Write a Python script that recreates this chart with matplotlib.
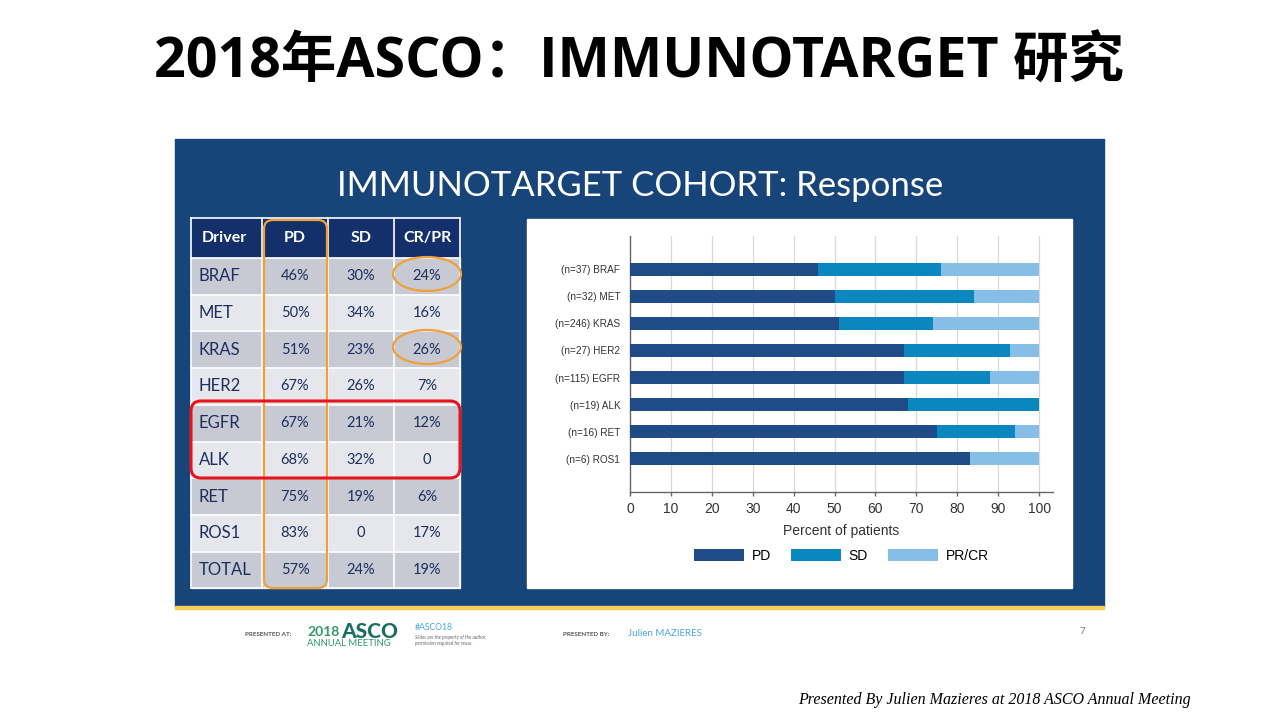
import matplotlib
matplotlib.use("Agg")
import matplotlib.pyplot as plt
from matplotlib.patches import Rectangle, FancyBboxPatch, Ellipse

# ---------------------------------------------------------------
# data
drivers = ["BRAF", "MET", "KRAS", "HER2", "EGFR", "ALK", "RET", "ROS1"]
n_patients = [37, 32, 246, 27, 115, 19, 16, 6]
pd_pct = [46, 50, 51, 67, 67, 68, 75, 83]
sd_pct = [30, 34, 23, 26, 21, 32, 19, 0]
crpr_pct = [24, 16, 26, 7, 12, 0, 6, 17]
total_row = ["TOTAL", 57, 24, 19]

table_header = ["Driver", "PD", "SD", "CR/PR"]
x_ticks = [0, 10, 20, 30, 40, 50, 60, 70, 80, 90, 100]
legend_labels = ["PD", "SD", "PR/CR"]

# colours
panel_blue = "#174479"
c_pd = "#1f4b86"
c_sd = "#0b87bf"
c_crpr = "#86bee7"
head_blue = "#13306a"
row_dark = "#c8cad3"
row_light = "#e5e7ed"
txt_navy = "#1c2f5e"
orange = "#f0a038"

fig = plt.figure(figsize=(12.8, 7.2), dpi=100)
fig.patch.set_facecolor("white")

# background axes in pixel coordinates
bg = fig.add_axes([0, 0, 1, 1])
bg.set_xlim(0, 1280)
bg.set_ylim(720, 0)
bg.axis("off")

# main title
bg.text(639, 63, "2018年ASCO：IMMUNOTARGET 研究", ha="center", va="center",
        fontsize=40, fontweight="bold", color="black",
        family=["Open Sans", "Noto Sans CJK SC", "DejaVu Sans"])

# blue slide panel
bg.add_patch(Rectangle((175, 139), 929, 468, color=panel_blue, zorder=1))
bg.add_patch(Rectangle((175, 606), 929, 2.5, color="#f3cf5a", zorder=1))
bg.text(640, 186, "IMMUNOTARGET COHORT: Response", ha="center", va="center",
        fontsize=25, color="white", family="Lato", zorder=3)

# white chart panel
bg.add_patch(Rectangle((527, 219), 545, 369, color="white", zorder=2))

# table
col_x = [191, 262, 328, 394, 460]
row_h = 36.7
head_top, head_bot = 218, 258
bg.add_patch(Rectangle((191, head_top), 269, head_bot - head_top, color=head_blue, zorder=2))
for j, h in enumerate(table_header):
    if j == 0:
        bg.text(col_x[0] + 11, (head_top + head_bot) / 2, h, ha="left", va="center",
                fontsize=11.5, fontweight="bold", color="white", family="Lato", zorder=4)
    else:
        bg.text((col_x[j] + col_x[j + 1]) / 2, (head_top + head_bot) / 2, h,
                ha="center", va="center", fontsize=11.5, fontweight="bold",
                color="white", family="Lato", zorder=4)

rows = []
for i in range(len(drivers)):
    rows.append([drivers[i], pd_pct[i], sd_pct[i], crpr_pct[i]])
rows.append(total_row)


def fmt(v):
    return "0" if v == 0 else f"{v}%"


for i, r in enumerate(rows):
    top = head_bot + i * row_h
    color = row_dark if i % 2 == 0 else row_light
    bg.add_patch(Rectangle((191, top), 269, row_h, color=color, zorder=2))
    yc = top + row_h / 2
    bg.text(col_x[0] + 8, yc, r[0], ha="left", va="center", fontsize=12,
            color=txt_navy, family="Lato", zorder=4)
    for j in range(1, 4):
        bg.text((col_x[j] + col_x[j + 1]) / 2, yc, fmt(r[j]), ha="center",
                va="center", fontsize=10.5, color=txt_navy, family="Lato", zorder=4)
# white cell borders
for x in col_x:
    bg.plot([x, x], [head_top, head_bot + len(rows) * row_h], color="white", lw=1.2, zorder=3)
for i in range(len(rows) + 1):
    y = head_bot + i * row_h
    bg.plot([191, 460], [y, y], color="white", lw=1.2, zorder=3)
bg.plot([191, 460], [head_top, head_top], color="white", lw=1.2, zorder=3)

# highlights
bg.add_patch(FancyBboxPatch((264, 220), 63, 368, boxstyle="round,pad=0,rounding_size=9",
                            fill=False, ec=orange, lw=1.6, zorder=5))
bg.add_patch(Ellipse((427, 274), 68, 34, fill=False, ec=orange, lw=1.6, zorder=5))
bg.add_patch(Ellipse((427, 347), 68, 34, fill=False, ec=orange, lw=1.6, zorder=5))
bg.add_patch(FancyBboxPatch((191, 401), 269, 77, boxstyle="round,pad=0,rounding_size=10",
                            fill=False, ec="#e8141b", lw=2.2, zorder=5))

# footer
bg.text(245, 635, "PRESENTED AT:", ha="left", va="center", fontsize=4.5,
        fontweight="bold", color="#555555", family="Lato")
bg.text(307, 632, "2018", ha="left", va="center", fontsize=10,
        fontweight="bold", color="#2f9a6a", family="Lato")
bg.text(341, 631, "ASCO", ha="left", va="center", fontsize=15,
        fontweight="black", color="#1c6e63", family="Lato")
bg.text(307, 644, "ANNUAL MEETING", ha="left", va="center", fontsize=6.8,
        color="#2f9a6a", family="Lato")
bg.text(415, 627, "#ASCO18", ha="left", va="center", fontsize=6.2,
        color="#4aa6dc", family="Lato")
bg.text(415, 637, "Slides are the property of the author,", ha="left", va="center",
        fontsize=3.3, style="italic", color="#666666", family="Lato")
bg.text(415, 643, "permission required for reuse.", ha="left", va="center",
        fontsize=3.3, style="italic", color="#666666", family="Lato")
bg.text(563, 635, "PRESENTED BY:", ha="left", va="center", fontsize=4.5,
        fontweight="bold", color="#555555", family="Lato")
bg.text(628, 634, "Julien MAZIERES", ha="left", va="center", fontsize=7,
        color="#4aa6dc", family="Lato")
bg.text(1082, 632, "7", ha="center", va="center", fontsize=7, color="#777777",
        family="Lato")
bg.text(1191, 700, "Presented By Julien Mazieres at 2018 ASCO Annual Meeting",
        ha="right", va="center", fontsize=11.5, style="italic", color="black",
        family="Liberation Serif")

# ---------------------------------------------------------------
# stacked bar chart
ax = fig.add_axes([630 / 1280, 1 - 492 / 720, 423 / 1280, 256 / 720])
ax.set_zorder(3)
ax.patch.set_alpha(0)
ypos = list(range(len(drivers)))
left_sd = pd_pct
left_cr = [p + s for p, s in zip(pd_pct, sd_pct)]
h = 0.48
ax.barh(ypos, pd_pct, height=h, color=c_pd, label=legend_labels[0], zorder=3)
ax.barh(ypos, sd_pct, left=left_sd, height=h, color=c_sd, label=legend_labels[1], zorder=3)
ax.barh(ypos, crpr_pct, left=left_cr, height=h, color=c_crpr, label=legend_labels[2], zorder=3)

ax.set_xlim(0, 103.4)
ax.set_ylim(len(drivers) - 1 + 1.24, -1.24)
ax.set_xticks(x_ticks)
ax.set_xticklabels([str(t) for t in x_ticks], fontsize=10, color="#333333",
                   family="Liberation Sans")
ax.set_yticks(ypos)
ax.set_yticklabels([f"(n={n}) {d}" for n, d in zip(n_patients, drivers)],
                   fontsize=7.2, color="#333333", family="Liberation Sans")
ax.tick_params(axis="y", length=0, pad=7)
ax.tick_params(axis="x", length=3, width=1, color="#666666", pad=4)
for t in x_ticks[1:]:
    ax.axvline(t, color="#d8d8d8", lw=0.9, zorder=1)
for s in ["top", "right"]:
    ax.spines[s].set_visible(False)
for s in ["left", "bottom"]:
    ax.spines[s].set_color("#666666")
    ax.spines[s].set_linewidth(1.0)
ax.set_xlabel("Percent of patients", fontsize=10, color="#333333",
              family="Liberation Sans", labelpad=6)
ax.legend(loc="center", bbox_to_anchor=(0.5, -0.25), ncol=3, frameon=False,
          handlelength=3.6, handleheight=0.9, handletextpad=0.55, columnspacing=1.45,
          prop={"family": "Liberation Sans", "size": 10})

fig.savefig("out.png", dpi=100)
